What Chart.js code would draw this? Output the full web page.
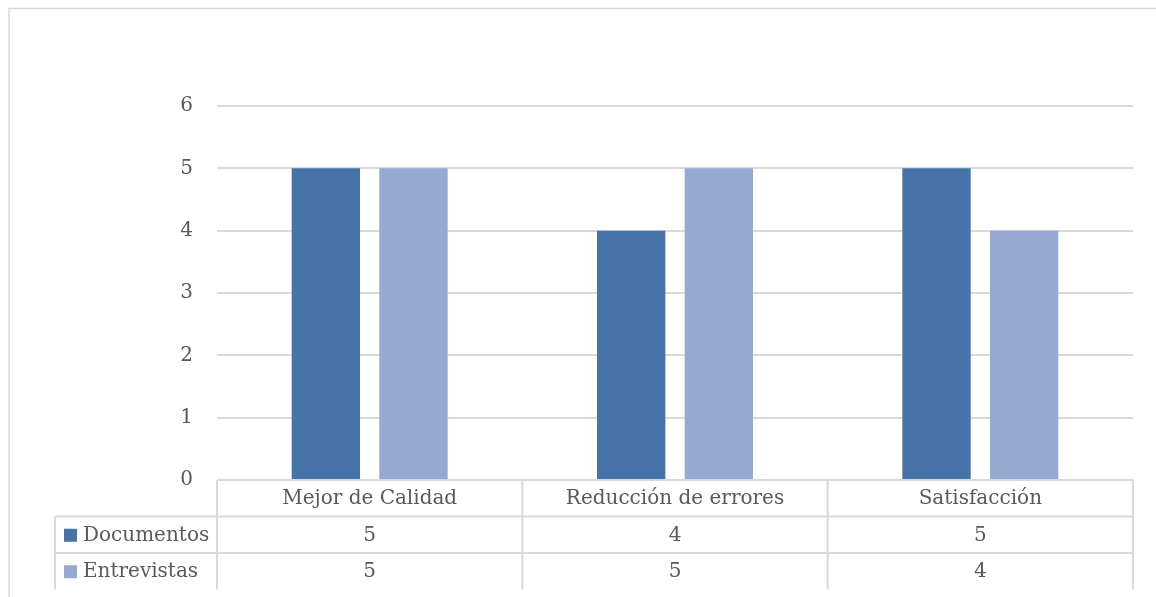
<!DOCTYPE html>
<html>
<head>
<meta charset="utf-8">
<script src="https://cdn.jsdelivr.net/npm/chart.js@4"></script>
<style>
  html, body { margin: 0; padding: 0; background: #fff; }
  #wrap { position: relative; width: 1156px; height: 597px; }
</style>
</head>
<body>
<div id="wrap"><canvas id="chart" width="1156" height="597"></canvas></div>
<script>
const CATEGORIES = ["Mejor de Calidad", "Reducción de errores", "Satisfacción"]
const SERIES_NAMES = ["Documentos", "Entrevistas"]
const DOCUMENTOS = [5, 4, 5]
const ENTREVISTAS = [5, 5, 4]
const Y_TICKS = [0, 1, 2, 3, 4, 5, 6]

const COLORS = ["#4673a8", "#95a9d1"]
const GRID = "#d9d9d9"
const TEXT = "#595959"
const FONT = "DejaVu Serif"
const FONT_SIZE = 20

// data table under the plot, drawn from the x scale
const dataTable = {
  id: "dataTable",
  afterDraw(chart) {
    const { ctx, chartArea: area } = chart
    const x = chart.scales.x
    const rowH = 36.5
    const left = 55
    const half = (x.getPixelForValue(1) - x.getPixelForValue(0)) / 2
    const top = area.bottom
    const rows = [DOCUMENTOS, ENTREVISTAS]

    ctx.save()
    ctx.strokeStyle = GRID
    ctx.lineWidth = 2
    ctx.beginPath()
    ctx.moveTo(area.left, top); ctx.lineTo(area.right, top)
    for (let r = 1; r <= rows.length; r++) {
      ctx.moveTo(left, top + r * rowH); ctx.lineTo(area.right, top + r * rowH)
    }
    ctx.moveTo(left, top + rowH); ctx.lineTo(left, top + 3 * rowH)
    for (let i = 0; i <= CATEGORIES.length; i++) {
      const px = i < CATEGORIES.length ? x.getPixelForValue(i) - half : area.right
      ctx.moveTo(px, top); ctx.lineTo(px, top + 3 * rowH)
    }
    ctx.stroke()

    ctx.fillStyle = TEXT
    ctx.font = FONT_SIZE + "px '" + FONT + "'"
    ctx.textBaseline = "middle"
    ctx.textAlign = "center"
    CATEGORIES.forEach((c, i) => ctx.fillText(c, x.getPixelForValue(i), top + rowH / 2 + 1))
    rows.forEach((vals, r) => {
      const cy = top + rowH * (r + 1.5) + 1
      vals.forEach((v, i) => ctx.fillText(String(v), x.getPixelForValue(i), cy))
    })
    ctx.textAlign = "left"
    SERIES_NAMES.forEach((name, r) => {
      const cy = top + rowH * (r + 1.5)
      ctx.fillStyle = COLORS[r]
      ctx.fillRect(64, cy - 6, 13, 13)
      ctx.fillStyle = TEXT
      ctx.fillText(name, 83, cy + 1)
    })

    // outer chart frame
    ctx.strokeStyle = GRID
    ctx.lineWidth = 1.5
    ctx.strokeRect(9, 8.5, 1160, 600)
    ctx.restore()
  }
}

new Chart(document.getElementById("chart"), {
  type: "bar",
  data: {
    labels: CATEGORIES,
    datasets: [
      { label: SERIES_NAMES[0], data: DOCUMENTOS, backgroundColor: COLORS[0] },
      { label: SERIES_NAMES[1], data: ENTREVISTAS, backgroundColor: COLORS[1] },
    ]
  },
  options: {
    responsive: false,
    animation: false,
    layout: { padding: { top: 106, right: 23, bottom: 117, left: 0 } },
    datasets: { bar: { categoryPercentage: 0.574, barPercentage: 0.78 } },
    plugins: { legend: { display: false }, tooltip: { enabled: false } },
    scales: {
      x: { display: false },
      y: {
        min: 0, max: 6,
        afterFit(s) { s.width = 217 },
        afterBuildTicks(s) { s.ticks = Y_TICKS.map(v => ({ value: v })) },
        border: { display: false },
        grid: { color: GRID, lineWidth: 2, drawTicks: false },
        ticks: { color: TEXT, padding: 24, font: { family: FONT, size: FONT_SIZE } },
      }
    }
  },
  plugins: [dataTable]
})
</script>
</body>
</html>
